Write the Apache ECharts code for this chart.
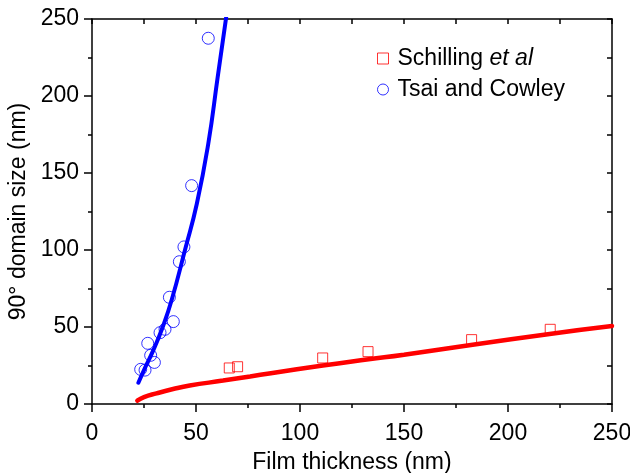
<!DOCTYPE html>
<html>
<head>
<meta charset="utf-8">
<title>90 degree domain size vs film thickness</title>
<script src="https://cdn.jsdelivr.net/npm/echarts@6/dist/echarts.min.js"></script>
<style>
html, body { margin: 0; padding: 0; background: #fff; }
#main { width: 630px; height: 473px; }
</style>
</head>
<body>
<div id="main"></div>
<script>
// measured points, [film thickness nm, domain size nm]
var schillingPts = [[66, 23.4], [70, 24.2], [110.9, 29.9], [132.7, 34], [182.5, 41.8], [220.3, 48.5]];
var tsaiPts = [[23.4, 22.5], [25.5, 22], [26.8, 39.4], [28.2, 31.6], [30, 27], [32.7, 46.3], [35.1, 48.5],
    [37.2, 69.3], [39.1, 53.5], [42, 92.4], [44.2, 102], [47.9, 141.8], [55.9, 237.5]];

// fitted curves
var redFit = [[21.8, 2.2], [25, 4.5], [31, 6.9], [39, 9.7], [47, 12.0], [63, 15.2], [76, 17.9], [86, 20],
    [111, 25], [133, 29], [150, 32], [183, 38.5], [220, 45.5], [250, 50.6]];
var blueFit = [[22.3, 13.8], [25, 22], [29.5, 35], [34, 50], [38.3, 67.5], [44.7, 100], [50.4, 130],
    [55.9, 169], [60.4, 212], [64.6, 252]];

var xTicks = { min: 0, max: 250, step: 50 };
var yTicks = { min: 0, max: 250, step: 50 };

var font = 'Liberation Sans, Arial, sans-serif';
var fs = 23;

var chart = echarts.init(document.getElementById('main'));

function axisPair(dim, t, name, gap) {
    var main = {
        type: 'value',
        min: t.min, max: t.max, interval: t.step,
        position: dim == 'x' ? 'bottom' : 'left',
        axisLine: { show: true, onZero: false, lineStyle: { color: '#000', width: 1.5 } },
        axisTick: { show: true, inside: false, length: 8, lineStyle: { color: '#000', width: 1.5 } },
        minorTick: { show: true, splitNumber: 2, length: 4, lineStyle: { color: '#000', width: 1.5 } },
        splitLine: { show: false },
        axisLabel: { color: '#000', fontSize: fs, fontFamily: font, margin: dim == 'x' ? 18 : 13 },
        name: name,
        nameLocation: 'middle',
        nameGap: gap,
        nameTextStyle: { color: '#000', fontSize: fs, fontFamily: font }
    };
    var mirror = {
        type: 'value',
        min: t.min, max: t.max, interval: t.step,
        position: dim == 'x' ? 'top' : 'right',
        axisLine: { show: true, onZero: false, lineStyle: { color: '#000', width: 1.5 } },
        axisTick: { show: true, inside: true, length: 5, lineStyle: { color: '#000', width: 1.5 } },
        minorTick: { show: true, splitNumber: 2, length: 5, lineStyle: { color: '#000', width: 1.5 } },
        splitLine: { show: false },
        axisLabel: { show: false }
    };
    return [main, mirror];
}

var option = {
    animation: false,
    backgroundColor: '#fff',
    grid: { left: 92, right: 18, top: 19, bottom: 69, containLabel: false, outerBoundsMode: 'none' },
    xAxis: axisPair('x', xTicks, 'Film thickness (nm)', 47),
    yAxis: axisPair('y', yTicks, '90\u00b0 domain size (nm)', 50),
    legend: {
        orient: 'vertical',
        left: 372, top: 42,
        itemWidth: 11, itemHeight: 11,
        itemGap: 8,
        selectedMode: false,
        textStyle: {
            color: '#000', fontSize: fs, fontFamily: font, lineHeight: 23,
            rich: {
                n: { fontSize: fs, fontFamily: font, color: '#000', lineHeight: 23, padding: [0, 0, 0, 4] },
                i: { fontStyle: 'italic', fontSize: fs, fontFamily: font, color: '#000', lineHeight: 23 }
            }
        },
        formatter: function (n) {
            return n == 'Schilling et al' ? '{n|Schilling }{i|et al}' : '{n|' + n + '}';
        },
        data: [
            { name: 'Schilling et al', icon: 'rect', itemStyle: { color: 'transparent', borderColor: '#ff0000', borderWidth: 1 } },
            { name: 'Tsai and Cowley', icon: 'circle', itemStyle: { color: 'transparent', borderColor: '#0000ff', borderWidth: 1 } }
        ]
    },
    series: [
        {
            name: 'fit red', type: 'line', data: redFit, smooth: true, showSymbol: false, symbol: 'none',
            lineStyle: { color: '#ff0000', width: 4.5, cap: 'round' }, z: 2
        },
        {
            name: 'fit blue', type: 'line', data: blueFit, smooth: true, showSymbol: false, symbol: 'none',
            clip: true,
            lineStyle: { color: '#0000ff', width: 4, cap: 'round' }, z: 2
        },
        {
            name: 'Schilling et al', type: 'scatter', data: schillingPts, symbol: 'rect', symbolSize: 10,
            itemStyle: { color: 'transparent', borderColor: '#ff0000', borderWidth: 1 }, z: 3
        },
        {
            name: 'Tsai and Cowley', type: 'scatter', data: tsaiPts, symbol: 'circle', symbolSize: 12,
            itemStyle: { color: 'transparent', borderColor: '#0000ff', borderWidth: 1 }, z: 3
        }
    ]
};

chart.setOption(option);
</script>
</body>
</html>
